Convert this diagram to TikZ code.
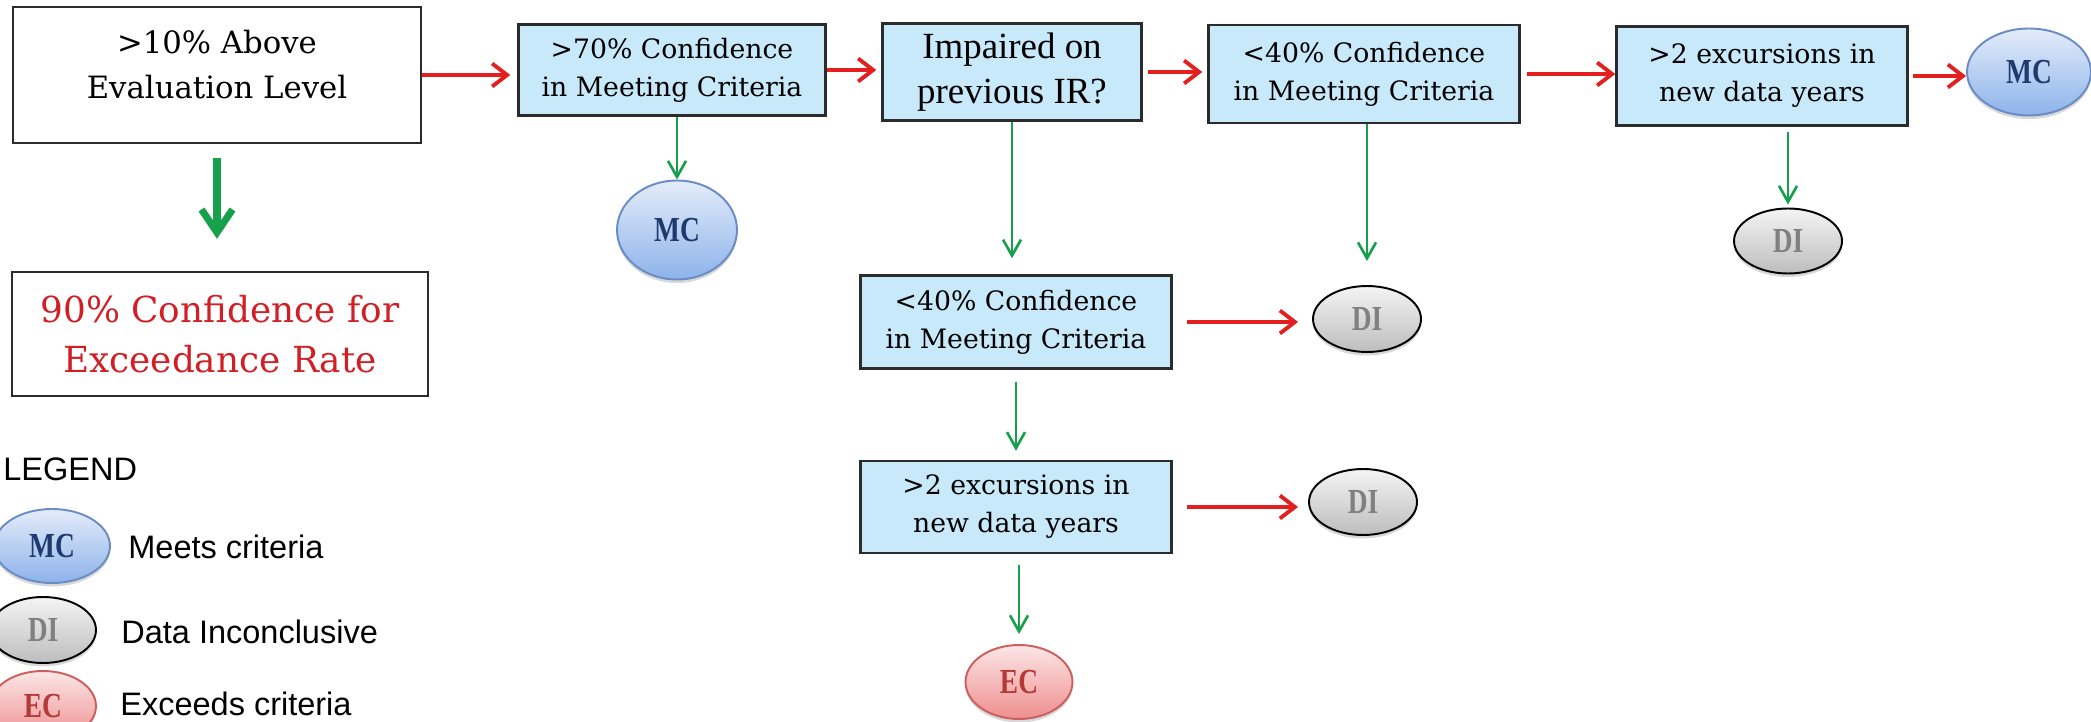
\documentclass[tikz,border=0pt]{standalone}
\usepackage{fontspec}
\setmainfont{DejaVu Serif}
\setsansfont{Liberation Sans}
\newfontfamily\timesfont{Liberation Serif}
\newfontfamily\badgefont[FakeStretch=0.78]{Liberation Serif}
\definecolor{BoxLine}{HTML}{2B2B2B}
\definecolor{SkyFill}{HTML}{C8E9FA}
\definecolor{FlowRed}{HTML}{E3201F}
\definecolor{ExceedRed}{HTML}{D21F26}
\definecolor{FlowGreen}{HTML}{17A04B}
\definecolor{MeetTop}{HTML}{E4ECFA}
\definecolor{MeetBottom}{HTML}{8DB3EA}
\definecolor{MeetLine}{HTML}{6A8CC4}
\definecolor{MeetText}{HTML}{1F3A6E}
\definecolor{InconTop}{HTML}{F4F4F4}
\definecolor{InconBottom}{HTML}{BDBDBD}
\definecolor{InconText}{HTML}{808080}
\definecolor{ExcTop}{HTML}{FCE6E6}
\definecolor{ExcBottom}{HTML}{EE8E8E}
\definecolor{ExcLine}{HTML}{CC5E5E}
\definecolor{ExcText}{HTML}{B23A37}
\usetikzlibrary{arrows.meta, shapes.geometric, shadows}
\tikzset{
  plainbox/.style={draw=BoxLine, line width=1.4pt, fill=white, align=center, inner sep=0pt},
  skybox/.style={draw=BoxLine, line width=1.4pt, fill=SkyFill, align=center, inner sep=0pt, font=\fontsize{15.2}{21.6}\selectfont},
  redarrow/.style={-{Straight Barb[length=3mm, width=4.6mm]}, line width=2.2pt, draw=FlowRed},
  greenarrow/.style={-{Straight Barb[length=3.2mm, width=3.6mm]}, line width=1.5pt, draw=FlowGreen},
  bigarrow/.style={-{Straight Barb[length=4.6mm, width=6.2mm]}, line width=4pt, draw=FlowGreen}
}

\begin{document}
\begin{tikzpicture}[x=0.02cm, y=-0.02cm,
  badge/.style={ellipse, line width=1.1pt, inner sep=0pt, font=\badgefont\bfseries\fontsize{20}{20}\selectfont, drop shadow={shadow xshift=0pt, shadow yshift=-0.07cm, opacity=0.3}},
  mcbadge/.style={badge, draw=MeetLine, top color=MeetTop, bottom color=MeetBottom, text=MeetText},
  dibadge/.style={badge, draw=black, top color=InconTop, bottom color=InconBottom, text=InconText},
  ecbadge/.style={badge, draw=ExcLine, top color=ExcTop, bottom color=ExcBottom, text=ExcText},
  legtext/.style={font=\sffamily\fontsize{18.5}{18.5}\selectfont, anchor=west, inner sep=0pt}
]
\path[use as bounding box, fill=white] (0,0) rectangle (2091,722);
\clip (0,0) rectangle (2091,722);

\node[plainbox, minimum width=8.16cm, minimum height=2.72cm] (above) at (217,75) {};
\node[font=\fontsize{17.5}{25.6}\selectfont, align=center] (abovetext) at (217,65) {>10\% Above\\Evaluation Level};
\node[plainbox, minimum width=8.32cm, minimum height=2.48cm, text=ExceedRed, font=\fontsize{20.4}{28.5}\selectfont] (exceed) at (220,334) {90\% Confidence for\\Exceedance Rate};

\node[skybox, minimum width=6.14cm, minimum height=1.82cm] (conf70) at (672,70) {>70\% Confidence\\in Meeting Criteria};
\node[skybox, minimum width=5.18cm, minimum height=1.94cm, font=\timesfont\fontsize{21}{25.6}\selectfont] (impaired) at (1012,72) {Impaired on\\previous IR?};
\node[skybox, minimum width=6.22cm, minimum height=1.96cm] (conf40a) at (1364,74) {<40\% Confidence\\in Meeting Criteria};
\node[skybox, minimum width=5.82cm, minimum height=1.98cm] (exc2a) at (1762,76) {>2 excursions in\\new data years};
\node[skybox, minimum width=6.22cm, minimum height=1.86cm] (conf40b) at (1016,322) {<40\% Confidence\\in Meeting Criteria};
\node[skybox, minimum width=6.22cm, minimum height=1.84cm] (exc2b) at (1016,507) {>2 excursions in\\new data years};

\node[mcbadge, minimum width=2.4cm, minimum height=1.98cm] (mcmid) at (677,230) {MC};
\node[mcbadge, minimum width=2.48cm, minimum height=1.74cm] (mcright) at (2029,72) {MC};
\node[dibadge, minimum width=2.16cm, minimum height=1.32cm] (dimid) at (1367,319) {DI};
\node[dibadge, minimum width=2.16cm, minimum height=1.32cm] (dilow) at (1363,502) {DI};
\node[dibadge, minimum width=2.16cm, minimum height=1.3cm] (diright) at (1788,241) {DI};
\node[ecbadge, minimum width=2.14cm, minimum height=1.48cm] (ecmid) at (1019,682) {EC};

\node[legtext] (legend) at (3,469) {LEGEND};
\node[mcbadge, minimum width=2.32cm, minimum height=1.48cm] (legmc) at (52,546) {MC};
\node[dibadge, minimum width=2.12cm, minimum height=1.32cm] (legdi) at (43,630) {DI};
\node[ecbadge, minimum width=2.12cm, minimum height=1.4cm] (legec) at (43,706) {EC};
\node[legtext] (legmctext) at (128,547) {Meets criteria};
\node[legtext] (legditext) at (121,632) {Data Inconclusive};
\node[legtext] (legectext) at (120,704) {Exceeds criteria};

\draw[redarrow, shorten >=0.14cm] (above.east) -- (above.east -| conf70.west);
\draw[redarrow, shorten >=0.1cm] (conf70.east) -- (conf70.east -| impaired.west);
\draw[redarrow, shorten <=0.1cm, shorten >=0.1cm] (impaired.east) -- (impaired.east -| conf40a.west);
\draw[redarrow, shorten <=0.12cm] (conf40a.east) -- (conf40a.east -| exc2a.west);
\draw[redarrow, shorten <=0.08cm] (exc2a.east) -- (exc2a.east -| mcright.west);
\draw[redarrow, shorten <=0.28cm, shorten >=0.28cm] (conf40b.east) -- (conf40b.east -| dimid.west);
\draw[redarrow, shorten <=0.28cm, shorten >=0.2cm] (exc2b.east) -- (exc2b.east -| dilow.west);

\draw[bigarrow, shorten <=0.28cm, shorten >=0.64cm] (above.south) -- (above.south |- exceed.north);
\draw[greenarrow] (conf70.south -| mcmid.north) -- (mcmid.north);
\draw[greenarrow, shorten >=0.32cm] (impaired.south) -- (impaired.south |- conf40b.north);
\draw[greenarrow, shorten >=0.48cm] (conf40a.south -| dimid.north) -- (dimid.north);
\draw[greenarrow, shorten <=0.24cm, shorten >=0.18cm] (conf40b.south) -- (exc2b.north);
\draw[greenarrow, shorten <=0.22cm, shorten >=0.2cm] (exc2b.south -| ecmid.north) -- (ecmid.north);
\draw[greenarrow, shorten <=0.1cm, shorten >=0.06cm] (exc2a.south -| diright.north) -- (diright.north);
\end{tikzpicture}
\end{document}
